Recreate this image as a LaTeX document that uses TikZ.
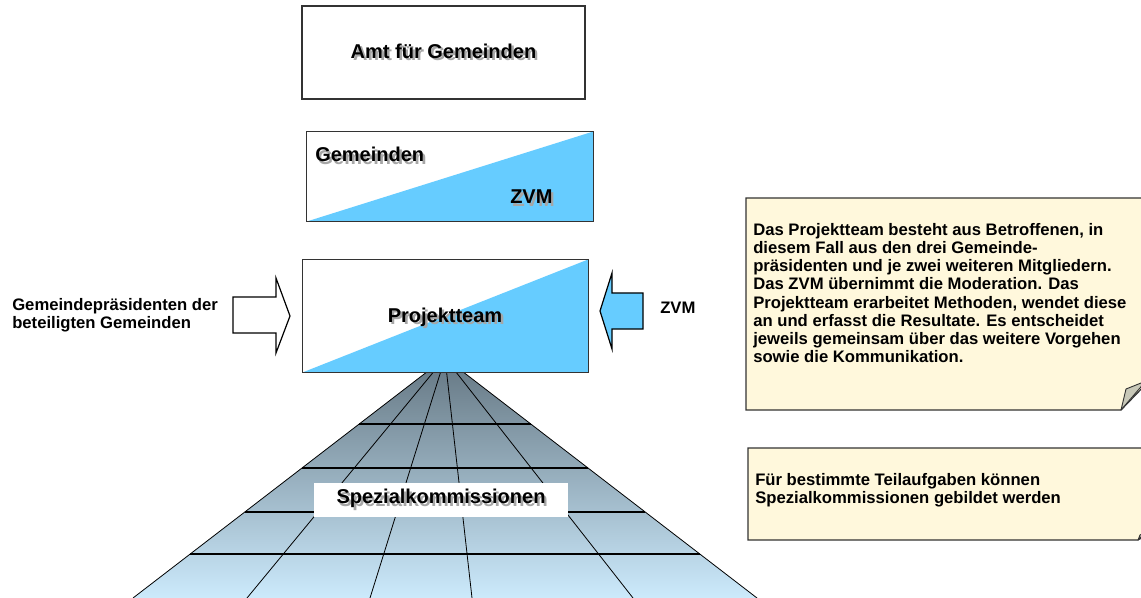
\documentclass[tikz,border=0pt]{standalone}
\usepackage{fontspec}
\setmainfont{Liberation Sans}
\usetikzlibrary{calc}
\definecolor{zvmblue}{RGB}{102,204,255}
\definecolor{notefill}{RGB}{255,248,220}
\definecolor{foldgray}{RGB}{200,200,184}
\definecolor{fantop}{RGB}{100,118,130}
\definecolor{fanbottom}{RGB}{204,234,252}
\newcommand{\shtext}[1]{\makebox[0pt][l]{\hspace{1.8pt}\raisebox{-1.8pt}{\textcolor{black!35}{#1}}}#1}

\begin{document}
\begin{tikzpicture}
    [
    x=0.75pt, y=-0.75pt,
    every node/.style={inner sep=0pt},
    pbox/.style={rectangle, draw=black!80, line width=0.9pt, fill=white},
    bigtext/.style={font=\fontsize{15}{18}\selectfont\bfseries},
    smalltext/.style={font=\fontsize{12.5}{13.7}\selectfont\bfseries, align=left},
    notebox/.style={draw=black!80, line width=0.9pt, fill=notefill},
    fold/.style={draw=black!80, line width=0.7pt, fill=foldgray, line join=round},
    rline/.style={line width=0.6pt},
    hline/.style={line width=1.4pt},
    blockarrow/.style={draw=black, line width=0.9pt, line join=miter}
    ]
\useasboundingbox (0,0) rectangle (1141,598);
\clip (0,0) rectangle (1141,598);

% Fan of the Spezialkommissionen
    \coordinate (apex) at (445,358);
    \coordinate (bl) at (133,598);
    \coordinate (br) at (757,598);
    \shade[top color=fantop, bottom color=fanbottom] (apex) -- (bl) -- (br) -- cycle;
    \foreach \bx in {247,370,472,633}
        \draw[rline] (apex) -- (\bx,598);
    \foreach \t in {0.275,0.458,0.642,0.817}
        \draw[hline] ($(apex)!\t!(bl)$) -- ($(apex)!\t!(br)$);
    \draw[rline] (bl) -- (apex) -- (br);

% Boxes
    \node[pbox, bigtext, minimum width=212.25pt, minimum height=69.75pt] (amt) at (443.5,52.5) {\shtext{Amt für Gemeinden}};

    \node[pbox, draw=none, minimum width=214.5pt, minimum height=66.75pt] (gem) at (450,176.5) {};
    \fill[zvmblue] (gem.south west) -- (gem.north east) -- (gem.south east) -- cycle;
    \draw[black!80, line width=0.9pt] (gem.south west) rectangle (gem.north east);
    \node[bigtext, anchor=base west] (gemtext) at (315,162) {\shtext{Gemeinden}};
    \node[bigtext, anchor=base west] (gemzvm) at (510,204) {\shtext{ZVM}};

    \node[pbox, draw=none, minimum width=213.75pt, minimum height=84pt] (proj) at (445.2,316) {};
    \fill[zvmblue] (proj.south west) -- (proj.north east) -- (proj.south east) -- cycle;
    \draw[black!80, line width=0.9pt] (proj.south west) rectangle (proj.north east);
    \node[bigtext, anchor=base] (projtext) at (445,322) {\shtext{Projektteam}};

    \node[fill=white, bigtext, minimum width=190.5pt, minimum height=25.5pt] (spez) at (441,500) {\shtext{Spezialkommissionen}};

% Block arrows
    \draw[blockarrow, fill=white] (233,297) -- (276,297) -- (276,278) -- (290,316) -- (276,353) -- (276,333) -- (233,333) -- cycle;
    \draw[blockarrow, fill=zvmblue] (643,293) -- (612,293) -- (612,273) -- (600,311) -- (612,349) -- (612,329) -- (643,329) -- cycle;

    \node[smalltext, anchor=west] (praes) at (12,315) {Gemeindepräsidenten der\\beteiligten Gemeinden};
    \node[smalltext, anchor=west] (zvm) at (660,308) {ZVM};

% Notes
    \draw[notebox] (746,198) -- (1150,198) -- (1150,380) -- (1121,410) -- (746,410) -- cycle;
    \draw[fold] (1121,410) -- (1126,389) -- (1146,381) -- cycle;
    \node[smalltext, anchor=west] (note1) at (753,293) {Das Projektteam besteht aus Betroffenen, in\\diesem Fall aus den drei Gemeinde-\\präsidenten und je zwei weiteren Mitgliedern.\\Das ZVM übernimmt die Moderation. Das\\Projektteam erarbeitet Methoden, wendet diese\\an und erfasst die Resultate. Es entscheidet\\jeweils gemeinsam über das weitere Vorgehen\\sowie die Kommunikation.};

    \draw[notebox] (748,448) -- (1150,448) -- (1150,533) -- (1138,540) -- (748,540) -- cycle;
    \draw[fold] (1138,540) -- (1140,535) -- (1146,532) -- cycle;
    \node[smalltext, anchor=west] (note2) at (755,490) {Für bestimmte Teilaufgaben können\\Spezialkommissionen gebildet werden};

\end{tikzpicture}
\end{document}
